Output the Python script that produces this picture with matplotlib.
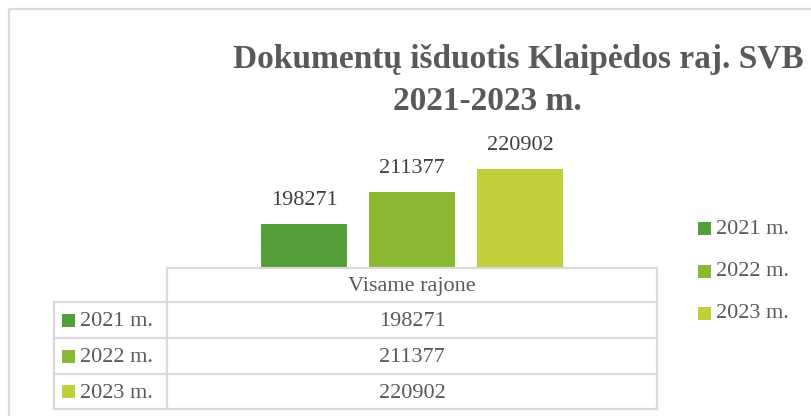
import matplotlib.pyplot as plt
from matplotlib.patches import Rectangle

# data
series = ["2021 m.", "2022 m.", "2023 m."]
values = [198271, 211377, 220902]
category = "Visame rajone"
colors = ["#549E39", "#8AB833", "#C0CF3A"]
title_lines = ["Dokumentų išduotis Klaipėdos raj. SVB", "2021-2023 m."]

W, H = 811, 416
text_col = "#595959"
label_col = "#404040"
grid_col = "#D9D9D9"
plt.rcParams['font.family'] = ['Liberation Serif', 'DejaVu Serif']

fig = plt.figure(figsize=(W / 100, H / 100), dpi=100)

# pixel helpers (origin top-left)
def fx(px):
    return px / W

def fy(py):
    return 1 - py / H

# bar axes: plot area spans the data-table column
col_left, col_right = 167, 657
ax_top, ax_bot = 159, 268
ax = fig.add_axes([fx(col_left), fy(ax_bot), fx(col_right - col_left), (ax_bot - ax_top) / H])
pos = list(range(-1, len(values) - 1))
bars = ax.bar(pos, values, width=0.8, color=colors)
half = (col_right - col_left) / 2 / 108
ax.set_xlim(-half, half)
ax.set_ylim(180000, 225000)
ax.axis("off")
for b, v in zip(bars, values):
    ax.annotate(f"{v}", (b.get_x() + b.get_width() / 2, v), xytext=(0, 13.5),
                textcoords="offset points", ha="center", va="baseline",
                fontsize=16, color=label_col, annotation_clip=False)

# overlay for frame, title, table
ov = fig.add_axes([0, 0, 1, 1], zorder=5)
ov.set_xlim(0, W)
ov.set_ylim(H, 0)
ov.axis("off")
ov.patch.set_alpha(0)

# chart frame
ov.plot([9, 9, W + 5], [H + 5, 9, 9], color=grid_col, lw=1.6)

# title
ov.text(518, 68, title_lines[0], ha="center", va="baseline", fontsize=24,
        fontweight="bold", color=text_col)
ov.text(487, 110, title_lines[1], ha="center", va="baseline", fontsize=24,
        fontweight="bold", color=text_col)

# data table
rows_y = [268, 302, 338, 374, 409]
left = 54
ov.add_patch(Rectangle((col_left, rows_y[0]), col_right - col_left, rows_y[-1] - rows_y[0],
                       facecolor="white", edgecolor="none"))
tkw = dict(color=grid_col, lw=1.6, solid_capstyle="projecting")
ov.plot([col_left, col_right], [rows_y[0], rows_y[0]], **tkw)
for y in rows_y[1:]:
    ov.plot([left, col_right], [y, y], **tkw)
ov.plot([col_left, col_left], [rows_y[0], rows_y[-1]], **tkw)
ov.plot([col_right, col_right], [rows_y[0], rows_y[-1]], **tkw)
ov.plot([left, left], [rows_y[1], rows_y[-1]], **tkw)

cx = (col_left + col_right) / 2
ov.text(cx, (rows_y[0] + rows_y[1]) / 2 + 6.5, category, ha="center", va="baseline",
        fontsize=16, color=text_col)
for i, (s, v, c) in enumerate(zip(series, values, colors)):
    yc = (rows_y[i + 1] + rows_y[i + 2]) / 2
    ov.add_patch(Rectangle((62, yc - 6.5), 13, 13, facecolor=c, edgecolor="none"))
    ov.text(80, yc + 6.5, s, ha="left", va="baseline", fontsize=16, color=text_col)
    ov.text(cx, yc + 6.5, f"{v}", ha="center", va="baseline", fontsize=16, color=text_col)

# legend
leg_y = [228, 271, 313]
for s, c, y in zip(series, colors, leg_y):
    ov.add_patch(Rectangle((698, y - 6.5), 13, 13, facecolor=c, edgecolor="none"))
    ov.text(716, y + 5.5, s, ha="left", va="baseline", fontsize=16, color=text_col)

fig.savefig("out.png", dpi=100)
